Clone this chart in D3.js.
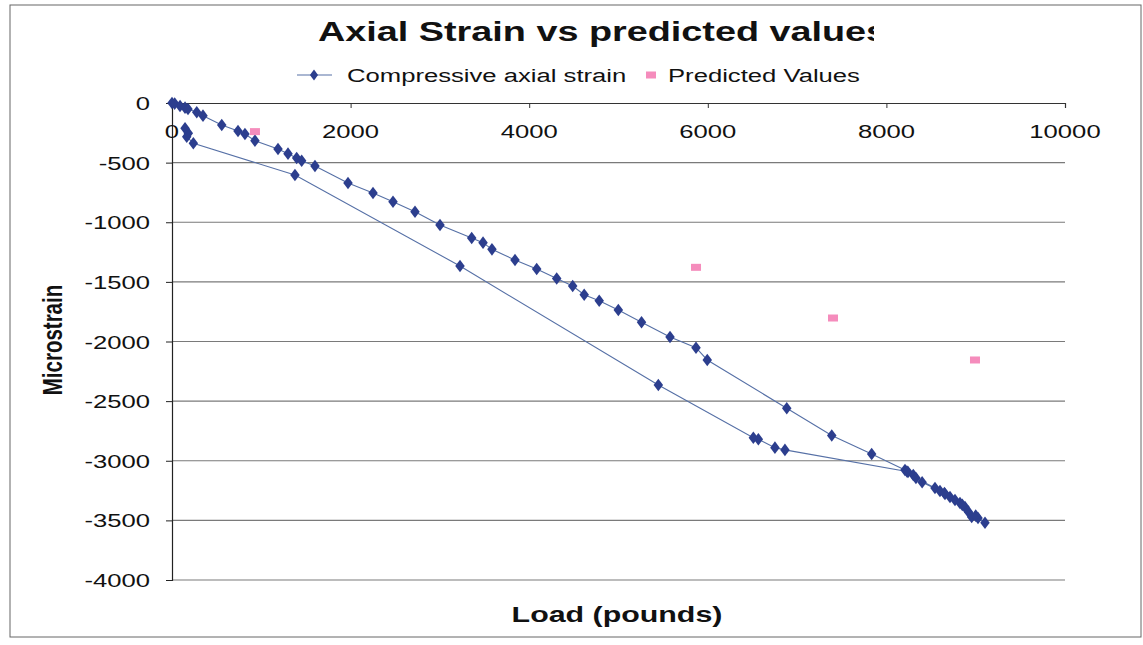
<!DOCTYPE html>
<html><head><meta charset="utf-8">
<script src="https://cdn.jsdelivr.net/npm/d3@7"></script>
<style>html,body{margin:0;padding:0;background:#fff;}svg{display:block;}</style>
</head><body>
<svg id="chart" width="1143" height="645"></svg>
<script>
// ---- data ----
const strainLoad = [0, 30, 90, 146, 179, 277, 347, 557, 739, 817, 929, 1187, 1299, 1396, 1452, 1601, 1971, 2251, 2475, 2721, 3001, 3356, 3483, 3583, 3841, 4084, 4308, 4487, 4616, 4784, 4998, 5258, 5577, 5868, 5994, 6884, 7388, 7835, 8208, 8242, 8301, 8331, 8544, 8600, 8656, 8712, 8768, 8824, 8880, 8917, 8955, 9026, 9104,
  9000, 8850, 8650, 8400, 8230, 6864, 6752, 6566, 6510, 5446, 3225, 1377, 239, 165, 183, 146];
const strainValues = [0, -5, -25, -39, -50, -78, -106, -184, -235, -260, -316, -386, -425, -461, -484, -528, -671, -755, -828, -912, -1023, -1132, -1171, -1227, -1317, -1392, -1472, -1535, -1608, -1658, -1736, -1839, -1962, -2052, -2155, -2560, -2788, -2943, -3078, -3094, -3119, -3145, -3229, -3254, -3279, -3304, -3329, -3354, -3388, -3427, -3472, -3480, -3520,
  -3460, -3370, -3270, -3180, -3090, -2909, -2890, -2820, -2807, -2365, -1367, -604, -338, -283, -254, -212];
const predLoad = [929, 5868, 7402, 8992];
const predValues = [-240, -1378, -1803, -2155];
const xTicks = [0, 2000, 4000, 6000, 8000, 10000];
const yTicks = [0, -500, -1000, -1500, -2000, -2500, -3000, -3500, -4000];
const titleText = "Axial Strain vs predicted values";
const seriesNames = ["Compressive axial strain", "Predicted Values"];
const xTitle = "Load (pounds)";
const yTitle = "Microstrain";

// ---- styles ----
const SX = 1.35; // horizontal stretch of the scanned original
const blue = "#2c3e8e", lineCol = "#5670a6", pink = "#f58cbc";
const font = "'Liberation Sans', Arial, sans-serif";

const svg = d3.select("#chart");
const x = d3.scaleLinear().domain([0, 10000]).range([172, 1065]);
const y = d3.scaleLinear().domain([0, -4000]).range([103, 580]);

// outer frame
svg.append("rect").attr("x", 10).attr("y", 5).attr("width", 1131).attr("height", 632)
  .attr("fill", "none").attr("stroke", "#666").attr("stroke-width", 1);

// gridlines
svg.append("g").selectAll("line").data(yTicks.slice(1)).join("line")
  .attr("x1", x(0)).attr("x2", x(10000))
  .attr("y1", d => y(d)).attr("y2", d => y(d))
  .attr("stroke", "#7a7a7a").attr("stroke-width", 1.2);

// y axis
const yAxis = svg.append("g").attr("transform", `translate(${x(0)},0)`)
  .call(d3.axisLeft(y).tickValues(yTicks).tickSize(6).tickFormat(""));
yAxis.select(".domain").attr("stroke", "#222").attr("stroke-width", 1.2);
yAxis.selectAll(".tick line").attr("stroke", "#222");

// x axis at y=0
const xAxis = svg.append("g").attr("transform", `translate(0,${y(0)})`)
  .call(d3.axisBottom(x).tickValues(xTicks).tickSize(5).tickSizeOuter(5).tickFormat(""));
xAxis.select(".domain").attr("stroke", "#333").attr("stroke-width", 1.2);
xAxis.selectAll(".tick line").attr("stroke", "#333");

// tick labels
svg.append("g").selectAll("text").data(xTicks).join("text")
  .attr("transform", d => `translate(${x(d)},138) scale(${SX},1)`)
  .attr("text-anchor", "middle").attr("font-family", font).attr("font-size", 19)
  .attr("fill", "#111").text(d => d);
svg.append("g").selectAll("text").data(yTicks).join("text")
  .attr("transform", d => `translate(150,${y(d) + 7}) scale(${SX},1)`)
  .attr("text-anchor", "end").attr("font-family", font).attr("font-size", 19)
  .attr("fill", "#111").text(d => d);

// series line + markers
const pts = strainLoad.map((l, i) => [l, strainValues[i]]);
svg.append("path").datum(pts)
  .attr("d", d3.line().x(d => x(d[0])).y(d => y(d[1])))
  .attr("fill", "none").attr("stroke", lineCol).attr("stroke-width", 1.1);
const diamond = d3.symbol(d3.symbolDiamond, 46);
svg.append("g").selectAll("path").data(pts).join("path")
  .attr("d", diamond)
  .attr("transform", d => `translate(${x(d[0])},${y(d[1])}) scale(1.3,1)`)
  .attr("fill", blue);

// predicted values
const pred = predLoad.map((l, i) => [l, predValues[i]]);
svg.append("g").selectAll("rect").data(pred).join("rect")
  .attr("x", d => x(d[0]) - 5).attr("y", d => y(d[1]) - 3.5)
  .attr("width", 10).attr("height", 7).attr("fill", pink);

// title (clipped like the original)
svg.append("clipPath").attr("id", "tclip").append("rect")
  .attr("x", 0).attr("y", 0).attr("width", 874).attr("height", 60);
svg.append("g").attr("clip-path", "url(#tclip)")
  .append("text")
  .attr("transform", `translate(318,41) scale(${SX},1)`)
  .attr("font-family", font).attr("font-weight", "bold").attr("font-size", 28)
  .attr("fill", "#111").text(titleText);

// legend
const lg = svg.append("g");
lg.append("line").attr("x1", 297).attr("x2", 332).attr("y1", 75).attr("y2", 75)
  .attr("stroke", lineCol).attr("stroke-width", 1.1);
lg.append("path").attr("d", d3.symbol(d3.symbolDiamond, 34)).attr("transform", "translate(314,75) scale(1.3,1)").attr("fill", blue);
lg.append("text").attr("transform", `translate(347,82) scale(${SX},1)`)
  .attr("font-family", font).attr("font-size", 19).attr("fill", "#111").text(seriesNames[0]);
lg.append("rect").attr("x", 646).attr("y", 71.5).attr("width", 10).attr("height", 7).attr("fill", pink);
lg.append("text").attr("transform", `translate(668,82) scale(${SX},1)`)
  .attr("font-family", font).attr("font-size", 19).attr("fill", "#111").text(seriesNames[1]);

// axis titles
svg.append("text").attr("transform", `translate(617,622) scale(${SX},1)`)
  .attr("text-anchor", "middle").attr("font-family", font).attr("font-weight", "bold")
  .attr("font-size", 22.5).attr("fill", "#111").text(xTitle);
svg.append("text").attr("transform", `translate(62,340) scale(${SX},1) rotate(-90)`)
  .attr("text-anchor", "middle").attr("font-family", font).attr("font-weight", "bold")
  .attr("font-size", 20.5).attr("fill", "#111").text(yTitle);
</script>
</body></html>
